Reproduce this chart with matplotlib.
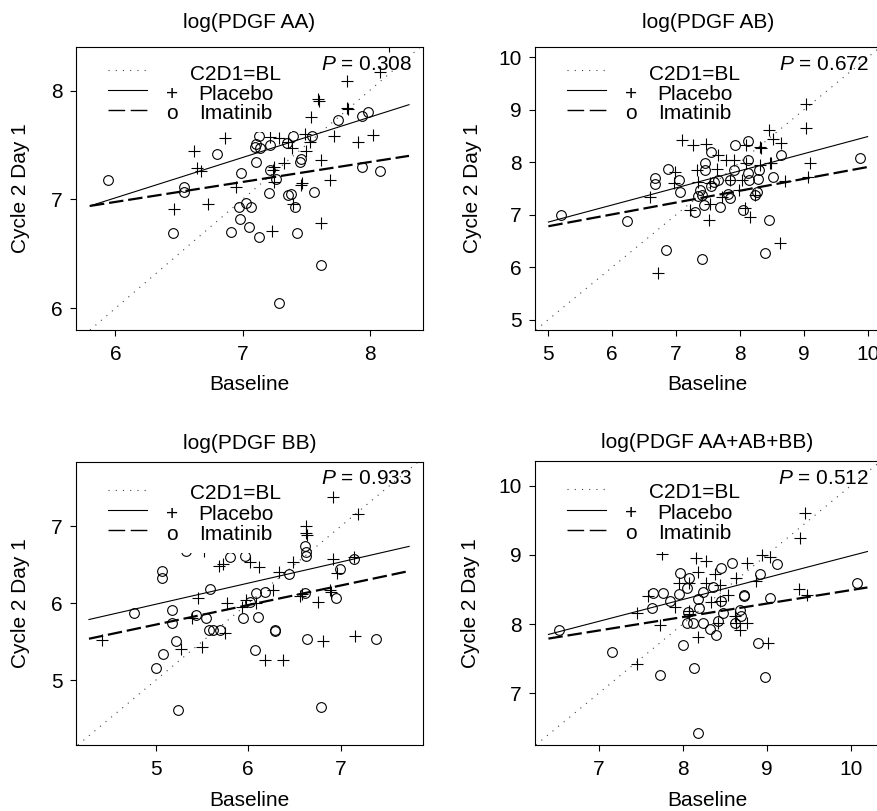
import numpy as np
import matplotlib.pyplot as plt
from matplotlib.patches import Rectangle

plt.rcParams['font.family'] = ['Liberation Sans', 'DejaVu Sans']
plt.rcParams['mathtext.fontset'] = 'custom'
plt.rcParams['mathtext.it'] = 'Liberation Sans:italic'
plt.rcParams['mathtext.rm'] = 'Liberation Sans'

# --- log(PDGF AA) ---
aa_plac_x = [8.15, 8.08, 7.82, 7.82, 7.83, 7.59, 7.60, 7.54, 7.72, 8.03, 7.91, 7.49,
             7.53, 7.50, 7.29, 7.22, 7.39, 7.33, 7.25, 7.24, 7.62, 7.69, 7.25, 7.47,
             7.46, 6.95, 6.86, 6.62, 6.64, 6.67, 6.46, 6.73, 7.23, 7.62, 7.40, 7.36]
aa_plac_y = [8.41, 8.17, 8.09, 7.84, 7.83, 7.92, 7.90, 7.76, 7.58, 7.59, 7.53, 7.60,
             7.53, 7.44, 7.56, 7.57, 7.47, 7.33, 7.30, 7.27, 7.36, 7.18, 7.16, 7.15,
             7.13, 7.11, 7.56, 7.44, 7.29, 7.26, 6.91, 6.96, 6.71, 6.78, 6.96, 7.53]
aa_ima_x = [5.94, 6.45, 6.54, 6.54, 6.80, 6.99, 7.03, 6.97, 7.07, 6.98, 7.05, 6.91,
            7.13, 7.11, 7.10, 7.11, 7.14, 7.13, 7.22, 7.22, 7.26, 7.21, 7.29, 7.36,
            7.38, 7.41, 7.43, 7.40, 7.35, 7.45, 7.46, 7.55, 7.56, 7.62, 7.75, 7.94,
            7.99, 7.94, 8.08]
aa_ima_y = [7.18, 6.69, 7.11, 7.07, 7.42, 7.24, 6.97, 6.93, 6.93, 6.82, 6.75, 6.70,
            6.65, 7.34, 7.48, 7.51, 7.47, 7.58, 7.50, 7.27, 7.19, 7.06, 6.05, 7.04,
            7.05, 6.93, 6.69, 7.58, 7.52, 7.34, 7.37, 7.58, 7.07, 6.40, 7.73, 7.77,
            7.80, 7.30, 7.26]
aa_fit_x = [5.80, 8.31]
aa_fit_plac = [6.94, 7.87]
aa_fit_ima = [6.94, 7.40]

# --- log(PDGF AB) ---
ab_plac_x = [9.03, 9.03, 9.09, 9.07, 8.46, 8.52, 8.65, 8.33, 8.09, 8.31, 8.48, 8.31,
             8.71, 8.63, 7.09, 7.27, 7.47, 7.66, 7.78, 7.90, 8.09, 7.64, 7.33, 6.98,
             6.96, 6.59, 7.35, 7.53, 7.84, 8.03, 7.98, 7.72, 7.53, 7.22, 7.51, 8.08,
             8.16, 8.24, 6.71, 8.47]
ab_plac_y = [9.12, 8.66, 7.98, 7.72, 8.62, 8.45, 8.37, 8.27, 8.33, 8.29, 7.99, 7.94,
             7.65, 6.46, 8.42, 8.33, 8.35, 8.14, 8.05, 8.04, 7.99, 7.88, 7.86, 7.82,
             7.61, 7.34, 7.63, 7.61, 7.67, 7.67, 7.47, 7.34, 7.21, 7.09, 6.90, 7.12,
             6.96, 7.37, 5.88, 7.98]
ab_ima_x = [5.19, 6.23, 6.84, 7.40, 8.39, 8.45, 9.88, 8.65, 8.13, 7.92, 7.54, 7.45,
            7.46, 6.87, 6.67, 6.67, 7.04, 7.06, 7.65, 7.59, 7.54, 7.84, 7.90, 8.13,
            8.13, 8.14, 8.30, 8.29, 8.51, 7.38, 7.40, 7.82, 7.84, 8.26, 8.24, 7.43,
            7.30, 7.69, 8.05, 7.34]
ab_ima_y = [6.99, 6.88, 6.32, 6.15, 6.26, 6.90, 8.09, 8.14, 8.41, 8.33, 8.19, 7.98,
            7.85, 7.88, 7.70, 7.59, 7.66, 7.44, 7.66, 7.62, 7.54, 7.67, 7.85, 8.05,
            7.79, 7.66, 7.85, 7.69, 7.71, 7.48, 7.37, 7.39, 7.31, 7.44, 7.37, 7.18,
            7.05, 7.14, 7.09, 7.36]
ab_fit_x = [5.0, 10.0]
ab_fit_plac = [6.86, 8.49]
ab_fit_ima = [6.78, 7.91]

# --- log(PDGF BB) ---
bb_plac_x = [6.92, 7.19, 6.63, 6.63, 6.64, 6.92, 7.14, 6.96, 6.49, 6.33, 6.27, 6.56,
             6.58, 6.76, 6.88, 6.90, 6.12, 6.02, 5.98, 6.09, 5.93, 5.77, 5.68, 5.73,
             5.46, 5.39, 5.28, 5.50, 5.75, 4.42, 6.18, 6.38, 6.81, 7.15, 5.52]
bb_plac_y = [7.38, 7.16, 7.01, 6.92, 6.89, 6.57, 6.60, 6.39, 6.54, 6.41, 6.17, 6.10,
             6.12, 6.02, 6.17, 6.15, 6.47, 6.54, 6.05, 6.00, 5.95, 6.00, 6.48, 6.51,
             6.07, 5.81, 5.41, 5.43, 5.61, 5.53, 5.27, 5.26, 5.51, 5.57, 6.68]
bb_ima_x = [4.77, 5.07, 5.07, 5.18, 5.18, 5.22, 5.08, 5.00, 5.24, 5.44, 5.59, 5.55,
            5.58, 5.62, 5.70, 5.80, 5.97, 5.95, 6.02, 6.09, 6.18, 6.11, 6.07, 6.29,
            6.29, 6.44, 6.63, 6.63, 6.62, 6.61, 6.64, 6.95, 6.99, 7.14, 7.38, 6.79,
            5.33]
bb_ima_y = [5.88, 6.42, 6.33, 5.91, 5.74, 5.51, 5.34, 5.16, 4.62, 5.85, 6.19, 5.81,
            5.66, 5.65, 5.65, 6.60, 6.62, 5.81, 6.02, 6.13, 6.15, 5.82, 5.40, 5.65,
            5.64, 6.38, 6.62, 6.67, 6.75, 6.13, 5.54, 6.07, 6.44, 6.58, 5.54, 4.65,
            6.68]
bb_fit_x = [4.28, 7.74]
bb_fit_plac = [5.79, 6.74]
bb_fit_ima = [5.54, 6.42]

# --- log(PDGF AA+AB+BB) ---
tot_plac_x = [9.46, 9.40, 8.94, 9.04, 8.76, 8.63, 8.87, 9.38, 9.48, 9.02, 8.16, 8.28,
              8.18, 8.38, 7.95, 8.08, 8.28, 8.44, 8.54, 8.34, 7.59, 7.91, 7.45, 7.73,
              8.08, 8.18, 8.64, 8.68, 8.76, 8.42, 7.46, 7.75, 8.44, 8.08, 8.62]
tot_plac_y = [9.61, 9.24, 9.00, 8.97, 8.88, 8.66, 8.63, 8.51, 8.42, 7.72, 8.95, 8.92,
              8.76, 8.73, 8.59, 8.60, 8.59, 8.57, 8.42, 8.32, 8.40, 8.25, 8.16, 7.99,
              8.14, 7.82, 8.01, 7.92, 8.02, 8.02, 7.42, 9.01, 8.33, 8.19, 8.12]
tot_ima_x = [6.52, 7.16, 7.73, 8.14, 8.18, 8.98, 8.90, 8.00, 10.08, 9.12, 8.59, 8.46,
             7.97, 8.08, 8.05, 7.95, 7.64, 7.77, 7.85, 7.63, 8.24, 8.36, 8.18, 8.19,
             8.06, 8.46, 8.73, 8.73, 9.04, 8.48, 8.68, 8.69, 8.05, 8.12, 8.24, 8.33,
             8.40, 8.42, 8.62, 8.92]
tot_ima_y = [7.92, 7.59, 7.27, 7.37, 6.42, 7.23, 7.72, 7.70, 8.59, 8.87, 8.88, 8.81,
             8.74, 8.66, 8.52, 8.44, 8.45, 8.45, 8.33, 8.23, 8.47, 8.54, 8.37, 8.23,
             8.18, 8.33, 8.42, 8.40, 8.38, 8.16, 8.20, 8.11, 8.01, 8.01, 8.02, 7.93,
             7.84, 8.04, 8.01, 8.73]
tot_fit_x = [6.40, 10.20]
tot_fit_plac = [7.85, 9.05]
tot_fit_ima = [7.79, 8.53]

titles = ['log(PDGF AA)', 'log(PDGF AB)', 'log(PDGF BB)', 'log(PDGF AA+AB+BB)']
p_values = ['0.308', '0.672', '0.933', '0.512']
legend_labels = ['C2D1=BL', 'Placebo', 'Imatinib']

panels = [
    dict(px=aa_plac_x, py=aa_plac_y, ix=aa_ima_x, iy=aa_ima_y,
         fx=aa_fit_x, fp=aa_fit_plac, fi=aa_fit_ima,
         xlim=(5.69, 8.42), ylim=(5.80, 8.40), xt=[6, 7, 8], yt=[6, 7, 8],
         box=(76, 47, 423, 330), ylab=-46, top=True),
    dict(px=ab_plac_x, py=ab_plac_y, ix=ab_ima_x, iy=ab_ima_y,
         fx=ab_fit_x, fp=ab_fit_plac, fi=ab_fit_ima,
         xlim=(4.79, 10.2), ylim=(4.80, 10.20), xt=[5, 6, 7, 8, 9, 10],
         yt=[5, 6, 7, 8, 9, 10], box=(535, 47, 880.4, 330), ylab=-53, top=True),
    dict(px=bb_plac_x, py=bb_plac_y, ix=bb_ima_x, iy=bb_ima_y,
         fx=bb_fit_x, fp=bb_fit_plac, fi=bb_fit_ima,
         xlim=(4.14, 7.89), ylim=(4.16, 7.84), xt=[5, 6, 7], yt=[5, 6, 7],
         box=(76, 461.7, 423, 745), ylab=-46, top=False),
    dict(px=tot_plac_x, py=tot_plac_y, ix=tot_ima_x, iy=tot_ima_y,
         fx=tot_fit_x, fp=tot_fit_plac, fi=tot_fit_ima,
         xlim=(6.24, 10.35), ylim=(6.25, 10.36), xt=[7, 8, 9, 10],
         yt=[7, 8, 9, 10], box=(535, 461, 880, 745), ylab=-55, top=False),
]

W, H = 878, 811
fig = plt.figure(figsize=(W / 100, H / 100), dpi=100)

for k, p in enumerate(panels):
    l, t, r, b = p['box']
    w, h = r - l, b - t
    ax = fig.add_axes([l / W, 1 - b / H, w / W, h / H])

    ax.axline((0, 0), (1, 1), color='#444444', lw=0.8, dashes=(1, 5.5), zorder=1)
    ax.plot(p['fx'], p['fp'], color='black', lw=0.8, zorder=1.5)
    ax.plot(p['fx'], p['fi'], color='black', lw=1.6, dashes=(6.5, 2.2), zorder=1.5)
    ax.plot(p['px'], p['py'], ls='none', marker='+', ms=8, mew=0.8, color='black', zorder=2)
    ax.plot(p['ix'], p['iy'], ls='none', marker='o', ms=7, mew=0.8, mfc='none',
            mec='black', zorder=2)

    ax.set_xlim(p['xlim'])
    ax.set_ylim(p['ylim'])
    ax.set_xticks(p['xt'])
    ax.set_yticks(p['yt'])
    ax.tick_params(direction='out', length=4.5, width=0.8, labelsize=15)
    ax.tick_params(axis='x', pad=6.5)
    ax.tick_params(axis='y', pad=5)
    for s in ax.spines.values():
        s.set_linewidth(0.8)

    ax.set_title(titles[k], fontsize=15, pad=13.9 if p['top'] else 9.5)
    ax.set_xlabel('Baseline', fontsize=15)
    ax.set_ylabel('Cycle 2 Day 1', fontsize=15)
    ax.xaxis.set_label_coords(0.5, -(44.5 if p['top'] else 46.5) / h)
    ax.yaxis.set_label_coords(p['ylab'] / w, 0.5)

    ax.text(1 - 11 / w, 1 - 22.5 / h, f'$P$ = {p_values[k]}', transform=ax.transAxes,
            ha='right', va='baseline', fontsize=15)

    # legend drawn by hand: white box hides points under it
    rows = [23, 43, 62.5] if p['top'] else [28, 48.5, 68.5]
    box_bottom = 85 if p['top'] else 91
    ax.add_patch(Rectangle((22 / w, 1 - box_bottom / h), (216 - 22) / w,
                           (box_bottom - 3) / h, transform=ax.transAxes,
                           facecolor='white', edgecolor='none', zorder=3))
    styles = [dict(color='#444444', lw=0.8, dashes=(1, 5.5)),
              dict(color='black', lw=0.8),
              dict(color='black', lw=1.0, dashes=(12, 4))]
    symbols = ['', '+', 'o']
    for j in range(3):
        yy = 1 - rows[j] / h
        ax.plot([32 / w, 71 / w], [yy, yy], transform=ax.transAxes, zorder=4, **styles[j])
        yt = 1 - (rows[j] + 9.5) / h
        if symbols[j]:
            ax.text(96 / w, yt, symbols[j], transform=ax.transAxes, ha='center',
                    va='baseline', fontsize=15, zorder=4)
        ax.text(160 / w, yt, legend_labels[j], transform=ax.transAxes, ha='center',
                va='baseline', fontsize=15, zorder=4)

plt.savefig('out.png', dpi=100)
